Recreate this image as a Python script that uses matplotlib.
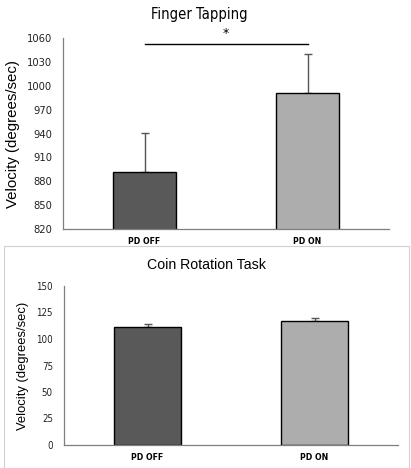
import matplotlib
matplotlib.use("Agg")
import matplotlib.pyplot as plt
from matplotlib import font_manager
from matplotlib.patches import Rectangle

conditions = ["PD OFF", "PD ON"]
tap_means = [891, 990.5]
tap_err = [49.5, 50]
coin_means = [111, 117]
coin_err = [3, 3]
bar_colors = ["#595959", "#adadad"]

W, H = 411, 468
fig = plt.figure(figsize=(W / 100, H / 100), dpi=100)

names = {f.name for f in font_manager.fontManager.ttflist}
if "Liberation Sans Narrow" in names:
    narrow = dict(family="Liberation Sans Narrow")
else:
    narrow = dict(family="DejaVu Sans", stretch="condensed")
sans = dict(family="Liberation Sans")


def px_axes(x0, y0, x1, y1):
    # pixel box (top-left origin) -> figure axes
    return fig.add_axes([x0 / W, 1 - y1 / H, (x1 - x0) / W, (y1 - y0) / H])


def style(ax, yticks, ysize, ypad, xpad):
    for s in ["top", "right"]:
        ax.spines[s].set_visible(False)
    for s in ["left", "bottom"]:
        ax.spines[s].set_color("#7f7f7f")
        ax.spines[s].set_linewidth(0.9)
    ax.set_xlim(-0.5, 1.5)
    ax.set_yticks(yticks)
    ax.set_yticklabels([str(v) for v in yticks], fontsize=ysize, color="#222222", **narrow)
    ax.set_xticks(range(len(conditions)))
    ax.set_xticklabels(conditions, fontweight="bold", fontsize=6.2, **narrow)
    ax.tick_params(axis="y", length=0, pad=ypad)
    ax.tick_params(axis="x", length=0, pad=xpad)


# Finger tapping panel
ax1 = px_axes(63, 38, 389, 229)
ax1.bar(range(2), tap_means, width=0.39, color=bar_colors, edgecolor="black",
        linewidth=1.0, zorder=2)
ax1.errorbar(range(2), tap_means, yerr=[[0, 0], tap_err], fmt="none",
             ecolor="#555555", elinewidth=1.0, capsize=3, capthick=1.0, zorder=1)
ax1.set_ylim(820, 1060)
style(ax1, list(range(820, 1061, 30)), 8, 8, 6)
ax1.plot([0, 1], [1052.5, 1052.5], color="black", lw=1.0, clip_on=False)
ax1.text(0.5, 1058, "*", ha="center", va="bottom", fontsize=9, clip_on=False)
ax1.set_ylabel("Velocity (degrees/sec)", fontsize=10.8, **sans)
ax1.yaxis.set_label_coords(-43 / 326, 0.5)
fig.text(199 / W, 1 - 14 / H, "Finger Tapping", ha="center", va="center",
         fontsize=10.5, **narrow)

# frame around lower panel
fig.add_artist(Rectangle((4 / W, 0), 405 / W, 1 - 246 / H, transform=fig.transFigure,
                         fill=False, edgecolor="#d0d0d0", linewidth=0.8))

# Coin rotation panel
ax2 = px_axes(64, 286, 398, 445)
ax2.bar(range(2), coin_means, width=0.40, color=bar_colors, edgecolor="black",
        linewidth=1.0, zorder=2)
ax2.errorbar(range(2), coin_means, yerr=[[0, 0], coin_err], fmt="none",
             ecolor="#555555", elinewidth=1.0, capsize=3, capthick=1.0, zorder=1)
ax2.set_ylim(0, 150)
style(ax2, list(range(0, 151, 25)), 7, 8, 6)
ax2.set_ylabel("Velocity (degrees/sec)", fontsize=9.4, **sans)
ax2.yaxis.set_label_coords(-35 / 334, 0.5)
fig.text(206 / W, 1 - 265 / H, "Coin Rotation Task", ha="center", va="center",
         fontsize=10.2, **sans)

fig.savefig("out.png", dpi=100)
